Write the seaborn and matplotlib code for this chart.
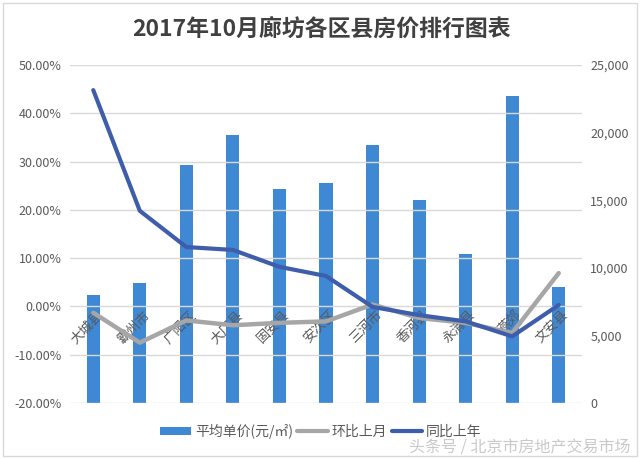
import numpy as np
import pandas as pd
import matplotlib
matplotlib.use("Agg")
import matplotlib.pyplot as plt
import matplotlib.transforms as mtransforms
from matplotlib.ticker import FixedLocator, FuncFormatter
from matplotlib.patches import Rectangle, Patch
from matplotlib.lines import Line2D
import seaborn as sns

# ---- data ----
districts = ["大城县", "霸州市", "广阳区", "大厂县", "固安县", "安次区",
             "三河市", "香河县", "永清县", "燕郊", "文安县"]
avg_price = [8000, 8900, 17600, 19850, 15800, 16300, 19100, 15000, 11000, 22700, 8600]
mom_change = [-0.013, -0.075, -0.029, -0.039, -0.034, -0.031, 0.004, -0.024, -0.034, -0.055, 0.069]
yoy_change = [0.448, 0.198, 0.123, 0.117, 0.082, 0.063, -0.001, -0.018, -0.031, -0.062, 0.003]
left_ticks = [-0.20, -0.10, 0.0, 0.10, 0.20, 0.30, 0.40, 0.50]
right_ticks = [0, 5000, 10000, 15000, 20000, 25000]
title = "2017年10月廊坊各区县房价排行图表"
legend_labels = ["平均单价(元/㎡)", "环比上月", "同比上年"]
watermark = "头条号 / 北京市房地产交易市场"

bar_color = "#3f88d4"
gray_color = "#a6a6a6"
blue_color = "#3e5dab"
text_color = "#595959"

sns.set_theme(style="white")
plt.rcParams['font.family'] = ['Noto Sans CJK SC', 'DejaVu Sans']

fig = plt.figure(figsize=(6.4, 4.59), dpi=100)
ax = fig.add_axes([70 / 640, 1 - 403 / 459, 512 / 640, 338 / 459])
ax2 = ax.twinx()

pos = np.arange(len(districts))
df = pd.DataFrame({"pos": pos, "price": avg_price, "mom": mom_change, "yoy": yoy_change})

sns.barplot(data=df, x="pos", y="price", ax=ax2, color=bar_color, width=0.28,
            saturation=1, linewidth=0)
sns.lineplot(data=df, x="pos", y="mom", ax=ax, color=gray_color, linewidth=3.2, sort=False)
sns.lineplot(data=df, x="pos", y="yoy", ax=ax, color=blue_color, linewidth=3.0, sort=False)

ax.set_zorder(ax2.get_zorder() + 1)
ax.patch.set_visible(False)

# left axis
ax.set_ylim(-0.2, 0.5)
ax.yaxis.set_major_locator(FixedLocator(left_ticks))
ax.yaxis.set_major_formatter(FuncFormatter(lambda v, p: f"{v * 100:.2f}%"))
ax.grid(axis="y", color="#d9d9d9", linewidth=1)
ax.grid(axis="x", visible=False)
ax.set_axisbelow(True)
for s in ax.spines.values():
    s.set_visible(False)
ax.spines["bottom"].set_position(("data", 0))
ax.tick_params(axis="y", length=0, pad=6, labelsize=9, labelcolor=text_color)
ax.tick_params(axis="x", length=0, pad=2, labelsize=9.5, labelcolor=text_color)
ax.set_xlim(-0.5, len(districts) - 0.5)
ax.set_xticks(pos)
ax.set_xticklabels(districts, rotation=45, ha="right", va="center", rotation_mode="anchor")
offset = mtransforms.ScaledTranslation(8 / 100, -4 / 100, fig.dpi_scale_trans)
for lbl in ax.get_xticklabels():
    lbl.set_transform(lbl.get_transform() + offset)
ax.set_xlabel("")
ax.set_ylabel("")

# right axis
ax2.set_ylim(0, 25000)
ax2.yaxis.set_major_locator(FixedLocator(right_ticks))
ax2.yaxis.set_major_formatter(FuncFormatter(lambda v, p: f"{v:,.0f}"))
ax2.grid(False)
for s in ax2.spines.values():
    s.set_visible(False)
ax2.tick_params(axis="y", length=0, pad=6, labelsize=9, labelcolor=text_color)
ax2.set_xlabel("")
ax2.set_ylabel("")

# title
fig.text(0.503, 1 - 30 / 459, title, ha="center", va="center", fontsize=16.5,
         fontweight="bold", color="#404040")

# legend
handles = [Patch(facecolor=bar_color, edgecolor="none"),
           Line2D([], [], color=gray_color, lw=3),
           Line2D([], [], color=blue_color, lw=3)]
fig.legend(handles, legend_labels, loc="center", bbox_to_anchor=(321 / 640, 1 - 431 / 459),
           ncol=3, frameon=False, fontsize=10, handlelength=2.2, handleheight=0.5,
           columnspacing=0.3, handletextpad=0.3, labelcolor=text_color)

# watermark
fig.text(0.985, 1 - 448 / 459, watermark, ha="right", va="center", fontsize=11.5,
         color="#c4c4c4", alpha=0.9)

# border
fig.add_artist(Rectangle((0.004, 0.006), 0.992, 0.988, transform=fig.transFigure,
                         fill=False, edgecolor="#d9d9d9", linewidth=1))

fig.savefig("out.png", dpi=100)
